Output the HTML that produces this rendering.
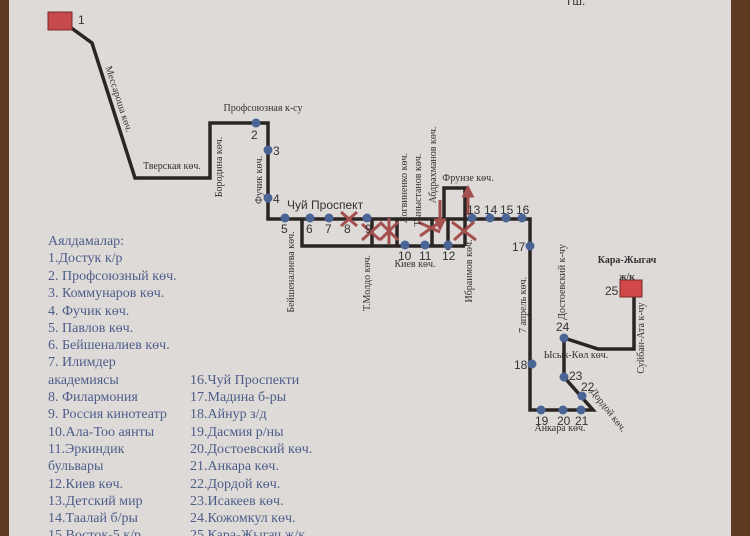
<!DOCTYPE html>
<html><head><meta charset="utf-8"><style>
html,body{margin:0;padding:0;width:750px;height:536px;overflow:hidden;background:#6b4226}
svg{display:block}
.s{font-family:"Liberation Serif",serif;font-size:10px;fill:#333}
.n{font-family:"Liberation Sans",sans-serif;font-size:12px;fill:#333}
.lg{font-family:"Liberation Serif",serif;font-size:14px;fill:#4d5d8a}
</style></head><body>
<svg width="750" height="536" viewBox="0 0 750 536" xmlns="http://www.w3.org/2000/svg">
<rect x="0" y="0" width="750" height="536" fill="#5e3a22"/>
<rect x="9" y="0" width="722" height="536" fill="#dedad8"/>
<text x="565" y="5" class="n" font-size="11">Тш.</text>
<g fill="none" stroke="#2a2523" stroke-width="3.5" stroke-linejoin="miter">
<polyline points="70,27 92,43 135,178 210,178 210,123 268,123 268,219 530,219 530,410 593,410 564,377 564,338 598,349 634,349 634,295"/>
<polyline points="302,219 302,246 465,246"/>
<line x1="372" y1="219" x2="372" y2="246"/>
<line x1="397" y1="219" x2="397" y2="246"/>
<polyline points="444,219 444,188 465,188 465,246"/>
<line x1="432" y1="219" x2="432" y2="246"/>
<line x1="448" y1="219" x2="448" y2="250"/>
</g>
<rect x="48" y="12" width="24" height="18" fill="#c64a4a" stroke="#7a2a2a"/>
<rect x="620" y="280" width="22" height="17" fill="#d04848" stroke="#7a2a2a"/>
<g fill="#4a6496">
<circle cx="256" cy="123" r="4.5"/><circle cx="268" cy="150" r="4.5"/><circle cx="268" cy="198" r="4.5"/>
<circle cx="285" cy="218" r="4.5"/><circle cx="310" cy="218" r="4.5"/><circle cx="329" cy="218" r="4.5"/><circle cx="367" cy="218" r="4.5"/>
<circle cx="405" cy="245" r="4.5"/><circle cx="425" cy="245" r="4.5"/><circle cx="448" cy="245" r="4.5"/>
<circle cx="472" cy="218" r="4.5"/><circle cx="490" cy="218" r="4.5"/><circle cx="506" cy="218" r="4.5"/><circle cx="522" cy="218" r="4.5"/>
<circle cx="530" cy="246" r="4.5"/><circle cx="532" cy="364" r="4.5"/>
<circle cx="541" cy="410" r="4.5"/><circle cx="563" cy="410" r="4.5"/><circle cx="581" cy="410" r="4.5"/>
<circle cx="582" cy="396" r="4.5"/><circle cx="564" cy="377" r="4.5"/><circle cx="564" cy="338" r="4.5"/>
</g>
<g stroke="#a4504f" stroke-width="3" fill="#a4504f">
<line x1="341" y1="212" x2="357" y2="226"/><line x1="357" y1="212" x2="341" y2="226"/>
<line x1="362" y1="224" x2="380" y2="240"/><line x1="380" y1="224" x2="362" y2="240"/>
<line x1="380" y1="222" x2="398" y2="240"/><line x1="398" y1="222" x2="380" y2="240"/>
<line x1="418" y1="222" x2="440" y2="232"/><line x1="420" y1="236" x2="440" y2="222"/>
<line x1="452" y1="222" x2="476" y2="240"/><line x1="474" y1="222" x2="454" y2="240"/>
<line x1="389" y1="218" x2="389" y2="244"/>
<line x1="440" y1="200" x2="440" y2="222"/><line x1="468" y1="215" x2="468" y2="194"/>
<polygon points="464,196 472,196 468,188"/><polygon points="436,220 444,220 440,228"/>
</g>
<text x="78" y="24" class="n">1</text>
<text x="251" y="139" class="n">2</text><text x="273" y="155" class="n">3</text><text x="273" y="203" class="n">4</text>
<text x="281" y="233" class="n">5</text><text x="306" y="233" class="n">6</text><text x="325" y="233" class="n">7</text><text x="344" y="233" class="n">8</text><text x="365" y="233" class="n">9</text>
<text x="398" y="260" class="n">10</text><text x="419" y="260" class="n">11</text><text x="442" y="260" class="n">12</text>
<text x="467" y="214" class="n">13</text><text x="484" y="214" class="n">14</text><text x="500" y="214" class="n">15</text><text x="516" y="214" class="n">16</text>
<text x="512" y="251" class="n">17</text><text x="514" y="369" class="n">18</text>
<text x="535" y="425" class="n">19</text><text x="557" y="425" class="n">20</text><text x="575" y="425" class="n">21</text>
<text x="581" y="391" class="n">22</text><text x="569" y="380" class="n">23</text><text x="556" y="331" class="n">24</text><text x="605" y="295" class="n">25</text>
<text x="287" y="209" class="n" font-size="13">Чуй Проспект</text>
<text x="263" y="111" class="s" text-anchor="middle">Профсоюзная к-су</text>
<text x="172" y="169" class="s" text-anchor="middle">Тверская көч.</text>
<text transform="translate(116,100) rotate(72)" class="s" text-anchor="middle">Мессароша көч.</text>
<text transform="translate(222,167) rotate(-90)" class="s" text-anchor="middle">Бородина көч.</text>
<text transform="translate(262,180) rotate(-90)" class="s" text-anchor="middle">Фучик көч.</text>
<text transform="translate(294,272) rotate(-90)" class="s" text-anchor="middle">Бейшеналиева көч.</text>
<text transform="translate(370,283) rotate(-90)" class="s" text-anchor="middle">Т.Молдо көч.</text>
<text transform="translate(407,188) rotate(-90)" class="s" text-anchor="middle">Логвиненко көч.</text>
<text transform="translate(421,190) rotate(-90)" class="s" text-anchor="middle">Тыныстанов көч.</text>
<text transform="translate(436,165) rotate(-90)" class="s" text-anchor="middle">Абдрахманов көч.</text>
<text transform="translate(472,271) rotate(-90)" class="s" text-anchor="middle">Ибраимов көч.</text>
<text transform="translate(526,305) rotate(-90)" class="s" text-anchor="middle">7 апрель көч.</text>
<text transform="translate(565,282) rotate(-90)" class="s" text-anchor="middle">Достоевский к-чу</text>
<text transform="translate(644,338) rotate(-90)" class="s" text-anchor="middle">Суйбан-Ата к-чу</text>
<text transform="translate(606,412) rotate(52)" class="s" text-anchor="middle">Дордой көч.</text>
<text x="415" y="267" class="s" text-anchor="middle">Киев көч.</text>
<text x="468" y="181" class="s" text-anchor="middle">Фрунзе көч.</text>
<text x="576" y="358" class="s" text-anchor="middle">Ысык-Көл көч.</text>
<text x="560" y="431" class="s" text-anchor="middle">Анкара көч.</text>
<text x="627" y="263" class="s" font-size="15" font-weight="bold" text-anchor="middle">Кара-Жыгач</text>
<text x="627" y="280" class="s" font-size="14" font-weight="bold" text-anchor="middle">ж/к</text>
<g class="lg">
<text x="48" y="245">Аялдамалар:</text>
<text x="48" y="262">1.Достук к/р</text>
<text x="48" y="280">2. Профсоюзный көч.</text>
<text x="48" y="297">3. Коммунаров көч.</text>
<text x="48" y="315">4. Фучик көч.</text>
<text x="48" y="332">5. Павлов көч.</text>
<text x="48" y="349">6. Бейшеналиев көч.</text>
<text x="48" y="366">7. Илимдер</text>
<text x="48" y="384">академиясы</text>
<text x="48" y="401">8. Филармония</text>
<text x="48" y="418">9. Россия кинотеатр</text>
<text x="48" y="436">10.Ала-Тоо аянты</text>
<text x="48" y="453">11.Эркиндик</text>
<text x="48" y="470">бульвары</text>
<text x="48" y="488">12.Киев көч.</text>
<text x="48" y="505">13.Детский мир</text>
<text x="48" y="522">14.Таалай б/ры</text>
<text x="48" y="539">15.Восток-5 к/р</text>
<text x="190" y="384">16.Чуй Проспекти</text>
<text x="190" y="401">17.Мадина б-ры</text>
<text x="190" y="418">18.Айнур з/д</text>
<text x="190" y="436">19.Дасмия р/ны</text>
<text x="190" y="453">20.Достоевский көч.</text>
<text x="190" y="470">21.Анкара көч.</text>
<text x="190" y="488">22.Дордой көч.</text>
<text x="190" y="505">23.Исакеев көч.</text>
<text x="190" y="522">24.Кожомкул көч.</text>
<text x="190" y="539">25.Кара-Жыгач ж/к</text>
</g>
</svg>
</body></html>
